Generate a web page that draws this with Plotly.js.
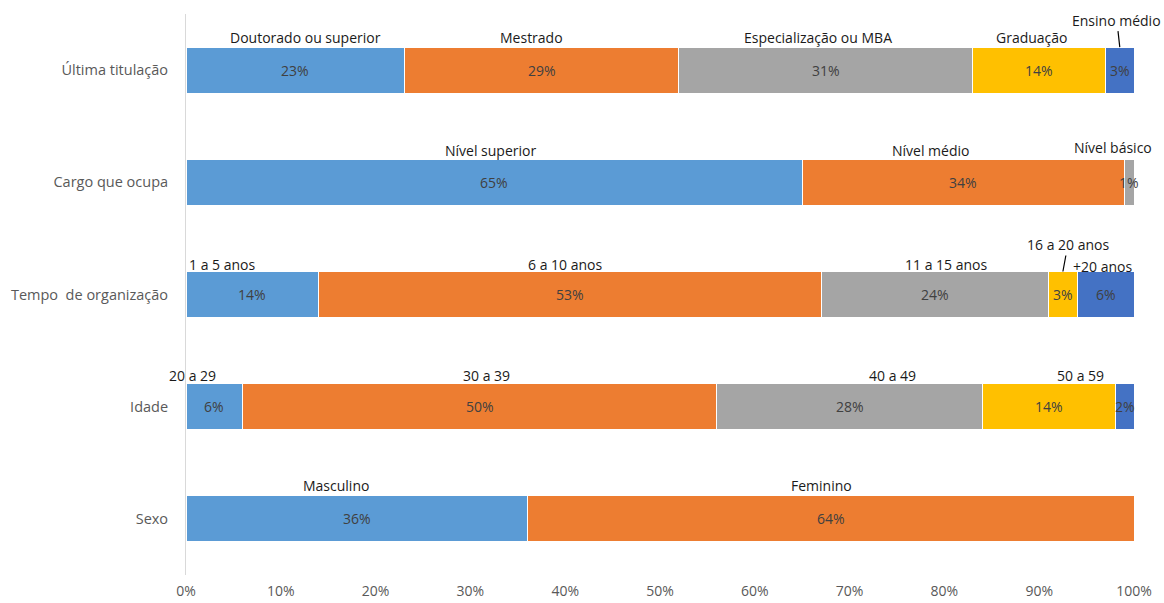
<!DOCTYPE html>
<html><head><meta charset="utf-8">
<script src="https://cdn.plot.ly/plotly-3.0.1.min.js"></script>
<style>html,body{margin:0;padding:0;background:#fff}#chart{width:1164px;height:603px}</style>
</head><body><div id="chart"></div>
<script>
// Categories (top to bottom)
const categories = ["Última titulação", "Cargo que ocupa", "Tempo\u00a0 de organização", "Idade", "Sexo"];

// Segment values (%) per category
const valsTitulacao = [23, 29, 31, 14, 3];
const valsCargo = [65, 34, 1];
const valsTempo = [14, 53, 24, 3, 6];
const valsIdade = [6, 50, 28, 14, 2];
const valsSexo = [36, 64];

// Segment names per category
const namesTitulacao = ["Doutorado ou superior", "Mestrado", "Especialização ou MBA", "Graduação", "Ensino médio"];
const namesCargo = ["Nível superior", "Nível médio", "Nível básico"];
const namesTempo = ["1 a 5 anos", "6 a 10 anos", "11 a 15 anos", "16 a 20 anos", "+20 anos"];
const namesIdade = ["20 a 29", "30 a 39", "40 a 49", "50 a 59", ""];
const namesSexo = ["Masculino", "Feminino"];

const tickVals = [0, 10, 20, 30, 40, 50, 60, 70, 80, 90, 100];
const tickText = ["0%", "10%", "20%", "30%", "40%", "50%", "60%", "70%", "80%", "90%", "100%"];

const allVals = [valsTitulacao, valsCargo, valsTempo, valsIdade, valsSexo];
const allNames = [namesTitulacao, namesCargo, namesTempo, namesIdade, namesSexo];

// Styling
const colors = ["#5B9BD5", "#ED7D31", "#A5A5A5", "#FFC000", "#4472C4"];
const FONT = "Open Sans, Noto Sans, sans-serif";
// label offsets [xshift, yshift] per row/segment, or leader-line spec
const labelStyle = [
  [[10,33],[-10,33],[-8,33],[-7,33],{arrow:true, ax:-3, ay:-27}],
  [[-4,32],[-33,32],[-16,35]],
  [[-30,30],[-5,30],[11,30],{arrow:true, ax:5, ay:-27},[-3,28]],
  [[-22,31],[7,31],[43,31],[32,31],null],
  [[-21,33],[-9,33]]
];

const traces = [];
for (let j = 0; j < 5; j++) {
  traces.push({
    type: "bar", orientation: "h",
    y: categories,
    x: allVals.map(v => v[j] !== undefined ? v[j] : 0),
    marker: {color: colors[j], line: {color: "#ffffff", width: 1}},
    hoverinfo: "x+y", showlegend: false
  });
}

const annotations = [];
allVals.forEach((vals, r) => {
  let cum = 0;
  vals.forEach((v, j) => {
    const c = cum + v / 2;
    cum += v;
    annotations.push({
      x: c, y: categories[r], xref: "x", yref: "y", text: v + "%",
      showarrow: false, font: {family: FONT, size: 14, color: "#404040"}
    });
    const nm = allNames[r][j];
    const st = labelStyle[r][j];
    if (!nm || !st) return;
    if (st.arrow) {
      annotations.push({
        x: c, y: categories[r], xref: "x", yref: "y", text: nm,
        showarrow: true, arrowhead: 0, arrowwidth: 1.2, arrowcolor: "#000",
        ax: st.ax, ay: st.ay, yshift: 23, standoff: 0,
        font: {family: FONT, size: 14, color: "#1a1a1a"}
      });
    } else {
      annotations.push({
        x: c, y: categories[r], xref: "x", yref: "y", text: nm,
        showarrow: false, xshift: st[0], yshift: st[1],
        font: {family: FONT, size: 14, color: "#1a1a1a"}
      });
    }
  });
});

const layout = {
  width: 1164, height: 603,
  margin: {l: 186, r: 30, t: 14, b: 28},
  paper_bgcolor: "#fff", plot_bgcolor: "#fff",
  barmode: "stack", bargap: 0.59,
  xaxis: {
    range: [0, 100], tickvals: tickVals, ticktext: tickText,
    showgrid: false, zeroline: false, showline: false, ticks: "",
    ticklabelstandoff: 6,
    tickfont: {family: FONT, size: 14, color: "#595959"}, fixedrange: true
  },
  yaxis: {
    autorange: "reversed", type: "category",
    showgrid: false, zeroline: false, showline: true, linecolor: "#D9D9D9", linewidth: 1,
    ticks: "", ticklabelstandoff: 14,
    tickfont: {family: FONT, size: 14.5, color: "#595959"}
  },
  annotations: annotations
};

Plotly.newPlot("chart", traces, layout, {displayModeBar: false, staticPlot: true});
</script></body></html>
